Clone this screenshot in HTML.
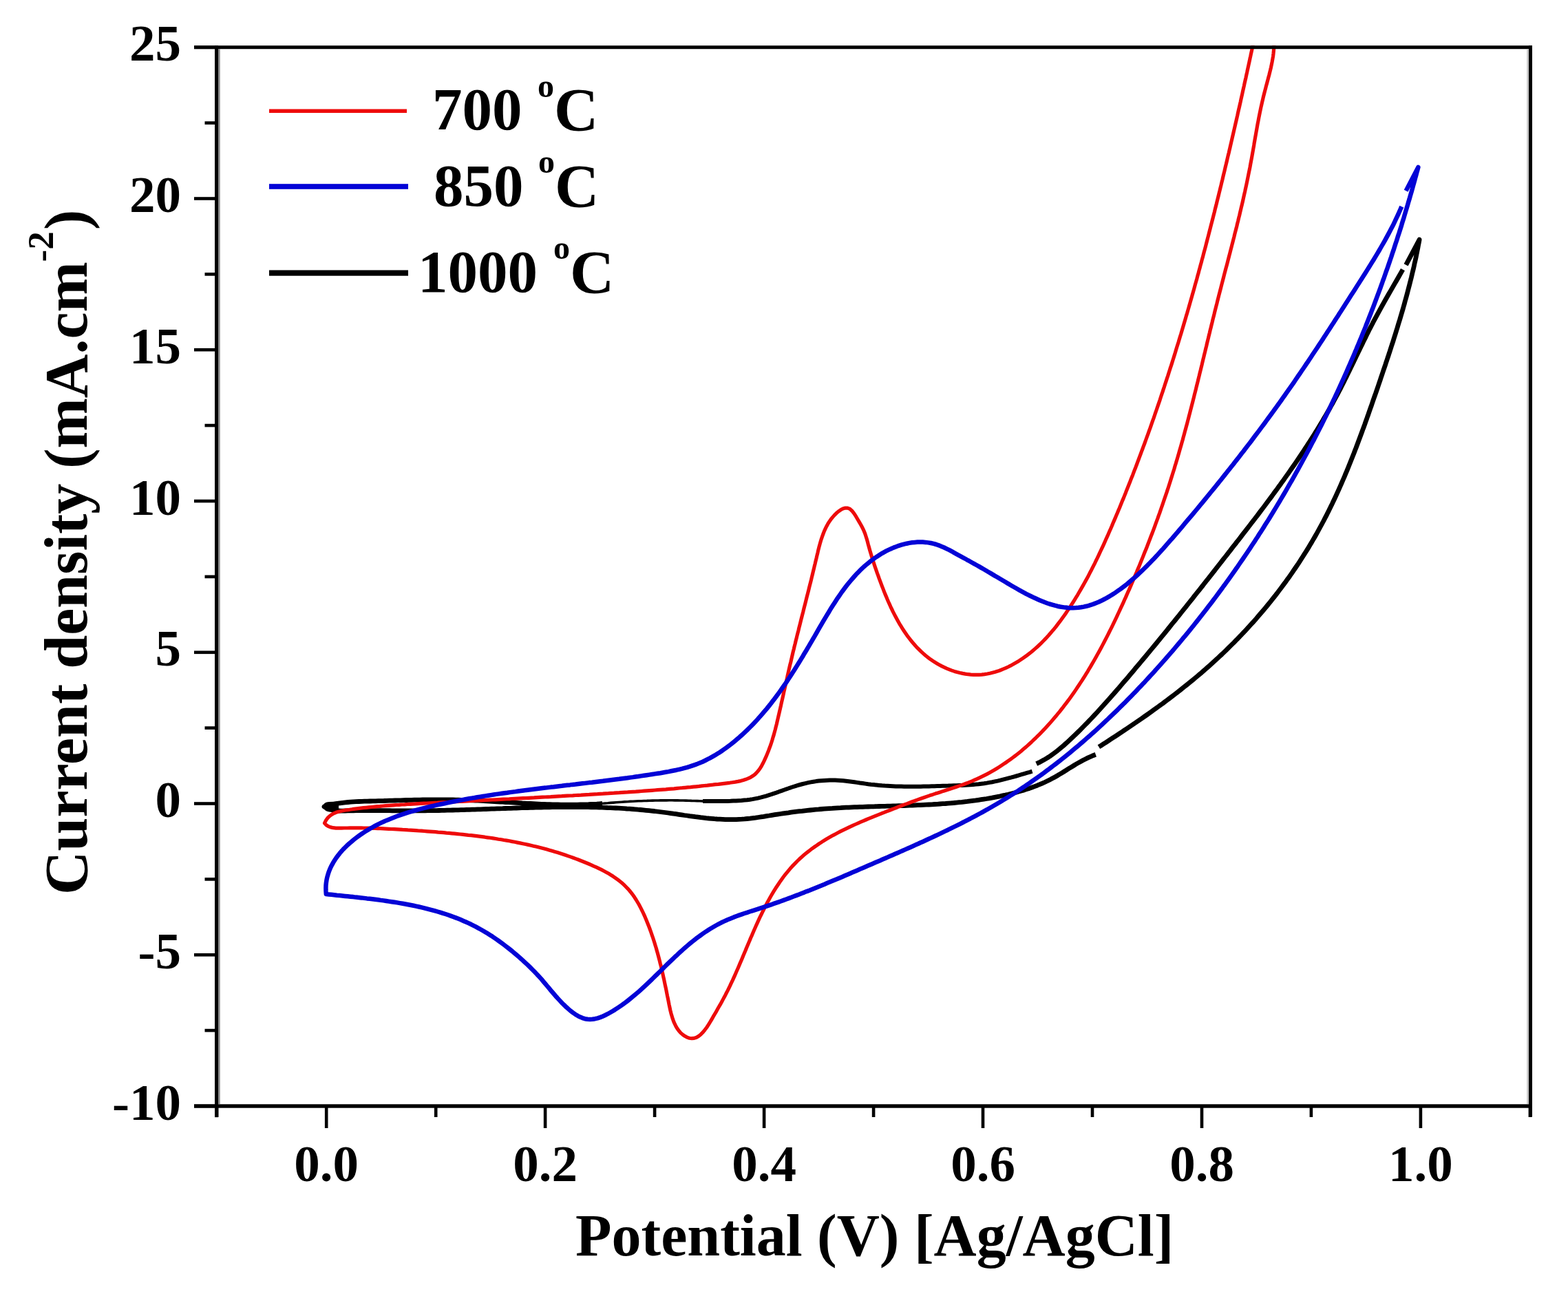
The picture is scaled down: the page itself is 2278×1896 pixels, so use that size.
<!DOCTYPE html>
<html><head><meta charset="utf-8"><title>Cyclic voltammetry</title>
<style>html,body{margin:0;padding:0;background:#fff;}svg{display:block;}</style>
</head><body>
<svg xmlns="http://www.w3.org/2000/svg" width="2278" height="1896" viewBox="0 0 2278 1896">
<rect x="0" y="0" width="2278" height="1896" fill="#ffffff"/>
<defs><clipPath id="pa"><rect x="312" y="66" width="1914" height="1544"/></clipPath></defs>
<g clip-path="url(#pa)" fill="none" stroke-linejoin="round" stroke-linecap="butt">
<path d="M1591.8 1096.3L1588.0 1097.7L1584.3 1099.3L1580.7 1100.9L1577.1 1102.7L1573.5 1104.5L1570.0 1106.4L1566.5 1108.4L1563.0 1110.4L1559.6 1112.5L1556.2 1114.6L1552.7 1116.7L1549.3 1118.9L1545.9 1121.0L1542.5 1123.1L1539.0 1125.2L1535.6 1127.2L1532.1 1129.2L1528.6 1131.1L1525.0 1133.0L1521.4 1134.8L1517.8 1136.5L1514.2 1138.1L1510.5 1139.7L1506.8 1141.2L1503.0 1142.6L1499.3 1144.0L1495.5 1145.4L1491.7 1146.6L1487.9 1147.9L1484.0 1149.0L1480.2 1150.1L1476.3 1151.2L1472.4 1152.2L1468.5 1153.2L1464.6 1154.2L1460.7 1155.1L1456.8 1155.9L1452.9 1156.8L1448.9 1157.6L1445.0 1158.3L1441.1 1159.1L1437.1 1159.8L1433.2 1160.5L1429.2 1161.1L1425.3 1161.7L1421.3 1162.3L1417.4 1162.9L1413.4 1163.4L1409.4 1163.9L1405.5 1164.4L1401.5 1164.8L1397.5 1165.3L1393.5 1165.7L1389.5 1166.1L1385.6 1166.5L1381.6 1166.8L1377.6 1167.1L1373.6 1167.5L1369.6 1167.7L1365.6 1168.0L1361.6 1168.3L1357.6 1168.5L1353.6 1168.8L1349.6 1169.0L1345.6 1169.2L1341.6 1169.4L1337.5 1169.6L1333.5 1169.7L1329.5 1169.9L1325.5 1170.1L1321.5 1170.2L1317.5 1170.4L1313.5 1170.5L1309.4 1170.6L1305.4 1170.7L1301.4 1170.9L1297.4 1171.0L1293.4 1171.1L1289.3 1171.2L1285.3 1171.3L1281.3 1171.4L1277.3 1171.5L1273.3 1171.6L1269.3 1171.8L1265.2 1171.9L1261.2 1172.0L1257.2 1172.1L1253.2 1172.3L1249.2 1172.4L1245.2 1172.6L1241.1 1172.7L1237.1 1172.9L1233.1 1173.1L1229.1 1173.2L1225.1 1173.4L1221.1 1173.7L1217.1 1173.9L1213.1 1174.1L1209.1 1174.4L1205.1 1174.6L1201.1 1174.9L1197.1 1175.2L1193.1 1175.5L1189.2 1175.9L1185.2 1176.2L1181.2 1176.6L1177.2 1177.0L1173.2 1177.4L1169.3 1177.8L1165.3 1178.3L1161.3 1178.7L1157.3 1179.2L1153.4 1179.7L1149.4 1180.2L1145.4 1180.8L1141.4 1181.3L1137.4 1181.9L1133.5 1182.5L1129.5 1183.1L1125.5 1183.7L1121.5 1184.3L1117.5 1185.0L1113.5 1185.6L1109.6 1186.3L1105.6 1186.9L1101.6 1187.5L1097.6 1188.1L1093.6 1188.6L1089.6 1189.1L1085.6 1189.5L1081.6 1189.9L1077.7 1190.2L1073.7 1190.4L1069.7 1190.6L1065.7 1190.7L1061.7 1190.7L1057.7 1190.6L1053.8 1190.6L1049.8 1190.4L1045.8 1190.2L1041.8 1190.0L1037.9 1189.7L1033.9 1189.3L1029.9 1189.0L1026.0 1188.6L1022.0 1188.1L1018.0 1187.7L1014.1 1187.2L1010.1 1186.7L1006.1 1186.1L1002.1 1185.6L998.2 1185.0L994.2 1184.5L990.2 1183.9L986.3 1183.3L982.3 1182.7L978.3 1182.2L974.3 1181.6L970.4 1181.0L966.4 1180.5L962.4 1180.0L958.4 1179.5L954.4 1179.0L950.5 1178.5L946.5 1178.1L942.5 1177.7L938.5 1177.3L934.5 1176.9L930.5 1176.5L926.5 1176.2L922.6 1175.8L918.6 1175.5L914.6 1175.2L910.6 1175.0L906.6 1174.7L902.6 1174.4L898.6 1174.2L894.6 1174.0L890.6 1173.8L886.6 1173.6L882.6 1173.5L878.6 1173.3L874.6 1173.2L870.6 1173.1L866.6 1172.9L862.6 1172.8L858.6 1172.8L854.6 1172.7L850.6 1172.6L846.6 1172.6L842.5 1172.5L838.5 1172.5L834.5 1172.5L830.5 1172.5L826.5 1172.5L822.5 1172.5L818.5 1172.5L814.5 1172.6L810.5 1172.6L806.4 1172.7L802.4 1172.7L798.4 1172.8L794.4 1172.8L790.4 1172.9L786.4 1173.0L782.3 1173.1L778.3 1173.2L774.3 1173.3L770.3 1173.4L766.3 1173.5L762.3 1173.6L758.2 1173.7L754.2 1173.9L750.2 1174.0L746.2 1174.1L742.2 1174.3L738.2 1174.4L734.1 1174.5L730.1 1174.7L726.1 1174.8L722.1 1174.9L718.1 1175.1L714.0 1175.2L710.0 1175.4L706.0 1175.5L702.0 1175.6L698.0 1175.8L693.9 1175.9L689.9 1176.1L685.9 1176.2L681.9 1176.3L677.9 1176.4L673.9 1176.6L669.8 1176.7L665.8 1176.8L661.8 1176.9L657.8 1177.0L653.8 1177.1L649.8 1177.2L645.8 1177.3L641.7 1177.4L637.7 1177.5L633.7 1177.6L629.7 1177.6L625.7 1177.7L621.7 1177.7L617.7 1177.8L613.7 1177.8L609.6 1177.8L605.6 1177.9L601.6 1177.9L597.6 1177.9L593.6 1177.9L589.6 1177.9L585.6 1177.8L581.6 1177.8L577.6 1177.8L573.6 1177.8L569.6 1177.8L565.6 1177.7L561.6 1177.7L557.6 1177.7L553.6 1177.7L549.6 1177.6L545.6 1177.6L541.6 1177.6L537.6 1177.6L533.6 1177.6L529.6 1177.6L525.6 1177.7L521.6 1177.7L517.6 1177.7L513.6 1177.8L509.6 1177.8L505.6 1177.9L501.6 1178.0L497.6 1178.1L493.6 1178.0L489.7 1177.8L485.8 1177.3L482.0 1176.6L478.2 1175.5L474.6 1174.0L471.0 1172.0L474.7 1170.8L478.5 1169.8L482.3 1168.9L486.1 1168.1L489.9 1167.4L493.8 1166.8L497.7 1166.3L501.7 1165.9L505.6 1165.5L509.5 1165.2L513.5 1164.9L517.5 1164.7L521.5 1164.5L525.5 1164.4L529.5 1164.2L533.5 1164.1L537.5 1164.0L541.6 1163.9L545.6 1163.8L549.6 1163.7L553.6 1163.6L557.7 1163.5L561.7 1163.3L565.7 1163.2L569.7 1163.1L573.8 1163.0L577.8 1162.9L581.8 1162.8L585.8 1162.6L589.9 1162.5L593.9 1162.4L597.9 1162.3L601.9 1162.2L605.9 1162.2L610.0 1162.1L614.0 1162.0L618.0 1162.0L622.0 1161.9L626.1 1161.9L630.1 1161.8L634.1 1161.8L638.1 1161.8L642.2 1161.8L646.2 1161.8L650.2 1161.9L654.2 1161.9L658.2 1162.0L662.3 1162.1L666.3 1162.2L670.3 1162.3L674.3 1162.4L678.3 1162.5L682.3 1162.7L686.4 1162.9L690.4 1163.0L694.4 1163.2L698.4 1163.4L702.4 1163.6L706.4 1163.8L710.5 1164.1L714.5 1164.3L718.5 1164.5L722.5 1164.8L726.5 1165.0L730.5 1165.2L734.5 1165.5L738.5 1165.7L742.6 1165.9L746.6 1166.2L750.6 1166.4L754.6 1166.6L758.6 1166.9L762.6 1167.1L766.6 1167.3L770.6 1167.5L774.6 1167.7L778.7 1167.9L782.7 1168.1L786.7 1168.3L790.7 1168.4L794.7 1168.6L798.7 1168.7L802.7 1168.8L806.7 1168.9L810.7 1169.0L814.8 1169.1L818.8 1169.1L822.8 1169.2L826.8 1169.2L830.8 1169.2L834.8 1169.1L838.8 1169.1L842.9 1169.0L846.9 1168.9L850.9 1168.8L854.9 1168.7L858.9 1168.5L862.9 1168.3L867.0 1168.1L871.0 1167.8L875.0 1167.5M1505.7 1109.6L1509.4 1107.9L1513.0 1106.0L1516.5 1104.1L1519.9 1102.1L1523.3 1100.0L1526.6 1097.8L1529.8 1095.5L1533.0 1093.1L1536.2 1090.7L1539.3 1088.2L1542.3 1085.7L1545.3 1083.1L1548.3 1080.4L1551.3 1077.8L1554.2 1075.1L1557.1 1072.3L1560.0 1069.6L1562.9 1066.8L1565.7 1064.0L1568.6 1061.2L1571.4 1058.4L1574.2 1055.5L1577.0 1052.7L1579.8 1049.8L1582.6 1046.9L1585.4 1044.0L1588.1 1041.1L1590.9 1038.1L1593.6 1035.2L1596.3 1032.3L1599.0 1029.3L1601.7 1026.3L1604.4 1023.3L1607.1 1020.3L1609.8 1017.3L1612.5 1014.3L1615.1 1011.3L1617.8 1008.3L1620.4 1005.2L1623.0 1002.2L1625.7 999.2L1628.3 996.1L1630.9 993.1L1633.5 990.0L1636.2 986.9L1638.8 983.9L1641.4 980.8L1644.0 977.8L1646.6 974.7L1649.1 971.6L1651.7 968.6L1654.3 965.5L1656.9 962.4L1659.5 959.3L1662.0 956.3L1664.6 953.2L1667.1 950.1L1669.7 947.0L1672.3 943.9L1674.8 940.8L1677.4 937.7L1679.9 934.7L1682.4 931.6L1685.0 928.5L1687.5 925.4L1690.0 922.3L1692.6 919.2L1695.1 916.1L1697.6 913.0L1700.1 909.8L1702.6 906.7L1705.2 903.6L1707.7 900.5L1710.2 897.4L1712.7 894.3L1715.2 891.2L1717.7 888.0L1720.2 884.9L1722.7 881.8L1725.2 878.7L1727.7 875.5L1730.2 872.4L1732.7 869.3L1735.1 866.2L1737.6 863.0L1740.1 859.9L1742.6 856.8L1745.1 853.6L1747.6 850.5L1750.0 847.3L1752.5 844.2L1755.0 841.1L1757.5 837.9L1759.9 834.8L1762.4 831.6L1764.9 828.5L1767.3 825.3L1769.8 822.2L1772.3 819.0L1774.7 815.9L1777.2 812.7L1779.7 809.5L1782.2 806.4L1784.6 803.2L1787.1 800.1L1789.5 796.9L1792.0 793.7L1794.5 790.6L1796.9 787.4L1799.4 784.3L1801.9 781.1L1804.3 777.9L1806.8 774.7L1809.2 771.6L1811.7 768.4L1814.1 765.2L1816.6 762.0L1819.0 758.8L1821.5 755.7L1823.9 752.5L1826.4 749.3L1828.8 746.1L1831.2 742.9L1833.6 739.7L1836.1 736.5L1838.5 733.3L1840.9 730.0L1843.3 726.8L1845.7 723.6L1848.1 720.4L1850.4 717.1L1852.8 713.9L1855.2 710.7L1857.5 707.4L1859.9 704.2L1862.2 700.9L1864.6 697.7L1866.9 694.4L1869.2 691.1L1871.5 687.9L1873.8 684.6L1876.1 681.3L1878.4 678.0L1880.7 674.7L1883.0 671.4L1885.2 668.1L1887.5 664.8L1889.7 661.5L1891.9 658.1L1894.1 654.8L1896.3 651.4L1898.5 648.1L1900.7 644.7L1902.9 641.4L1905.0 638.0L1907.2 634.6L1909.3 631.3L1911.4 627.9L1913.5 624.5L1915.6 621.1L1917.7 617.6L1919.7 614.2L1921.8 610.8L1923.8 607.3L1925.8 603.9L1927.8 600.4L1929.8 597.0L1931.8 593.5L1933.7 590.0L1935.7 586.5L1937.6 583.0L1939.5 579.5L1941.4 576.0L1943.3 572.4L1945.1 568.9L1947.0 565.4L1948.8 561.8L1950.6 558.2L1952.4 554.7L1954.2 551.1L1956.0 547.5L1957.7 543.9L1959.5 540.3L1961.2 536.7L1963.0 533.1L1964.7 529.5L1966.5 525.9L1968.2 522.3L1969.9 518.7L1971.7 515.1L1973.4 511.5L1975.2 507.9L1976.9 504.3L1978.7 500.7L1980.4 497.1L1982.2 493.5L1984.0 489.9L1985.7 486.3L1987.5 482.7L1989.3 479.1L1991.1 475.6L1993.0 472.0L1994.8 468.4L1996.7 464.9L1998.6 461.3L2000.5 457.8L2002.4 454.3L2004.3 450.8L2006.2 447.3L2008.2 443.8L2010.1 440.3L2012.1 436.8L2014.1 433.3L2016.1 429.8L2018.1 426.3L2020.1 422.9L2022.1 419.4L2024.1 415.9L2026.1 412.4L2028.1 409.0L2030.1 405.5L2032.1 402.0L2034.0 398.6L2036.0 395.1L2038.0 391.6M2042.6 384.8L2062.1 348.1L2061.4 352.1L2060.6 356.0L2059.9 360.0L2059.1 363.9L2058.3 367.9L2057.5 371.8L2056.7 375.8L2055.8 379.7L2054.9 383.6L2054.1 387.5L2053.2 391.4L2052.2 395.3L2051.3 399.2L2050.4 403.1L2049.4 407.0L2048.4 410.9L2047.4 414.8L2046.4 418.6L2045.4 422.5L2044.4 426.4L2043.4 430.2L2042.3 434.1L2041.2 437.9L2040.2 441.8L2039.1 445.6L2038.0 449.5L2036.9 453.3L2035.7 457.2L2034.6 461.0L2033.5 464.8L2032.3 468.6L2031.1 472.5L2030.0 476.3L2028.8 480.1L2027.6 483.9L2026.4 487.7L2025.2 491.5L2024.0 495.4L2022.8 499.2L2021.5 503.0L2020.3 506.8L2019.1 510.6L2017.8 514.4L2016.6 518.2L2015.3 522.0L2014.0 525.8L2012.8 529.6L2011.5 533.4L2010.2 537.2L2008.9 541.0L2007.6 544.8L2006.3 548.6L2005.1 552.4L2003.8 556.2L2002.5 560.0L2001.2 563.8L1999.9 567.6L1998.6 571.4L1997.2 575.2L1995.9 578.9L1994.6 582.7L1993.3 586.5L1992.0 590.3L1990.6 594.1L1989.3 597.9L1988.0 601.7L1986.6 605.5L1985.3 609.3L1983.9 613.1L1982.6 616.9L1981.2 620.7L1979.8 624.4L1978.4 628.2L1977.0 632.0L1975.6 635.8L1974.2 639.5L1972.8 643.3L1971.4 647.0L1970.0 650.8L1968.5 654.6L1967.1 658.3L1965.6 662.0L1964.1 665.8L1962.6 669.5L1961.1 673.2L1959.6 677.0L1958.1 680.7L1956.6 684.4L1955.0 688.1L1953.5 691.8L1951.9 695.5L1950.3 699.1L1948.7 702.8L1947.1 706.5L1945.5 710.1L1943.8 713.8L1942.2 717.4L1940.5 721.1L1938.8 724.7L1937.1 728.3L1935.4 731.9L1933.6 735.5L1931.9 739.1L1930.1 742.7L1928.3 746.3L1926.5 749.9L1924.6 753.4L1922.8 757.0L1920.9 760.5L1919.0 764.0L1917.1 767.5L1915.2 771.0L1913.3 774.5L1911.3 778.0L1909.3 781.5L1907.3 784.9L1905.3 788.4L1903.2 791.8L1901.2 795.2L1899.1 798.6L1897.0 802.0L1894.8 805.4L1892.7 808.8L1890.5 812.2L1888.4 815.5L1886.2 818.9L1883.9 822.2L1881.7 825.5L1879.4 828.8L1877.2 832.1L1874.9 835.4L1872.6 838.7L1870.2 841.9L1867.9 845.2L1865.5 848.4L1863.2 851.6L1860.8 854.8L1858.3 858.0L1855.9 861.2L1853.5 864.4L1851.0 867.5L1848.5 870.7L1846.0 873.8L1843.5 876.9L1841.0 880.0L1838.4 883.1L1835.8 886.2L1833.2 889.2L1830.6 892.3L1828.0 895.3L1825.4 898.4L1822.7 901.4L1820.1 904.4L1817.4 907.3L1814.7 910.3L1812.0 913.3L1809.3 916.2L1806.5 919.1L1803.8 922.0L1801.0 924.9L1798.2 927.8L1795.4 930.7L1792.6 933.6L1789.7 936.4L1786.9 939.2L1784.0 942.0L1781.2 944.8L1778.3 947.6L1775.4 950.4L1772.4 953.1L1769.5 955.9L1766.6 958.6L1763.6 961.3L1760.6 964.0L1757.6 966.7L1754.6 969.4L1751.6 972.0L1748.6 974.6L1745.6 977.3L1742.5 979.9L1739.4 982.5L1736.4 985.0L1733.3 987.6L1730.2 990.2L1727.1 992.7L1723.9 995.2L1720.8 997.7L1717.7 1000.2L1714.5 1002.7L1711.4 1005.2L1708.2 1007.6L1705.0 1010.1L1701.8 1012.5L1698.6 1015.0L1695.4 1017.4L1692.2 1019.8L1689.0 1022.2L1685.7 1024.5L1682.5 1026.9L1679.2 1029.3L1676.0 1031.6L1672.7 1034.0L1669.5 1036.3L1666.2 1038.6L1662.9 1040.9L1659.6 1043.2L1656.3 1045.5L1653.0 1047.8L1649.7 1050.0L1646.4 1052.3L1643.1 1054.5L1639.8 1056.8L1636.5 1059.0L1633.2 1061.2L1629.8 1063.5L1626.5 1065.7L1623.2 1067.9L1619.8 1070.1L1616.5 1072.2L1613.1 1074.4L1609.8 1076.6L1606.4 1078.8L1603.1 1080.9L1599.8 1083.1L1596.4 1085.2" stroke="#000000" stroke-width="6.8"/>
<path d="M875.0 1167.5L879.0 1167.1L883.1 1166.8L887.1 1166.4L891.2 1166.1L895.2 1165.8L899.3 1165.5L903.3 1165.2L907.4 1164.9L911.4 1164.7L915.5 1164.4L919.5 1164.2L923.6 1164.0L927.6 1163.8L931.7 1163.7L935.7 1163.5L939.8 1163.4L943.8 1163.2L947.9 1163.1L951.9 1163.0L956.0 1163.0L960.0 1162.9L964.1 1162.9L968.2 1162.9L972.2 1162.8L976.3 1162.8L980.3 1162.9L984.4 1162.9L988.5 1163.0L992.5 1163.0L996.6 1163.1L1000.7 1163.2L1004.7 1163.4L1008.8 1163.5L1012.9 1163.6L1016.9 1163.8L1021.0 1164.0" stroke="#000000" stroke-width="3.6"/>
<path d="M1021.0 1164.0L1025.0 1164.0L1029.0 1164.0L1033.1 1164.0L1037.1 1164.0L1041.1 1164.0L1045.1 1164.0L1049.2 1164.0L1053.2 1163.9L1057.2 1163.9L1061.3 1163.8L1065.3 1163.6L1069.3 1163.5L1073.3 1163.2L1077.3 1163.0L1081.3 1162.6L1085.3 1162.2L1089.3 1161.7L1093.2 1161.1L1097.1 1160.4L1101.1 1159.6L1105.0 1158.7L1108.8 1157.7L1112.7 1156.6L1116.5 1155.4L1120.4 1154.2L1124.2 1152.9L1128.0 1151.6L1131.8 1150.2L1135.7 1148.9L1139.5 1147.5L1143.3 1146.2L1147.1 1144.8L1150.9 1143.5L1154.7 1142.3L1158.5 1141.1L1162.4 1140.0L1166.2 1139.0L1170.1 1138.1L1174.0 1137.2L1177.8 1136.4L1181.7 1135.7L1185.6 1135.1L1189.5 1134.6L1193.5 1134.2L1197.4 1133.9L1201.3 1133.7L1205.3 1133.5L1209.3 1133.5L1213.2 1133.5L1217.2 1133.7L1221.2 1134.0L1225.2 1134.3L1229.2 1134.7L1233.2 1135.2L1237.2 1135.7L1241.2 1136.3L1245.2 1136.9L1249.2 1137.5L1253.3 1138.0L1257.3 1138.6L1261.3 1139.2L1265.3 1139.7L1269.3 1140.1L1273.4 1140.5L1277.4 1140.9L1281.4 1141.3L1285.4 1141.6L1289.4 1141.8L1293.4 1142.0L1297.4 1142.2L1301.4 1142.4L1305.5 1142.5L1309.5 1142.6L1313.5 1142.7L1317.5 1142.7L1321.5 1142.8L1325.5 1142.8L1329.5 1142.7L1333.5 1142.7L1337.5 1142.7L1341.5 1142.6L1345.5 1142.5L1349.6 1142.4L1353.6 1142.3L1357.6 1142.2L1361.6 1142.1L1365.6 1142.0L1369.6 1141.8L1373.6 1141.7L1377.6 1141.6L1381.6 1141.4L1385.7 1141.3L1389.7 1141.2L1393.7 1141.0L1397.7 1140.9L1401.7 1140.7L1405.7 1140.5L1409.7 1140.2L1413.7 1139.9L1417.7 1139.6L1421.7 1139.2L1425.6 1138.7L1429.6 1138.2L1433.6 1137.6L1437.5 1136.9L1441.4 1136.2L1445.3 1135.4L1449.3 1134.6L1453.2 1133.7L1457.1 1132.7L1461.0 1131.7L1464.8 1130.7L1468.7 1129.7L1472.6 1128.6L1476.5 1127.5L1480.3 1126.4L1484.2 1125.2L1488.0 1124.1L1491.9 1122.9L1495.8 1121.8L1499.6 1120.6" stroke="#000000" stroke-width="6"/>
<path d="M469.5 1171 Q470 1165.5 478 1165 L492 1164.6 L492 1179.6 L478 1179.5 Q470 1178 469.5 1171Z" fill="#000"/>
<path d="M1851.0 62.0L1850.9 66.1L1850.7 70.1L1850.4 74.1L1850.0 78.1L1849.5 82.1L1848.8 86.1L1848.1 90.0L1847.3 93.9L1846.5 97.8L1845.6 101.7L1844.6 105.6L1843.7 109.4L1842.6 113.3L1841.6 117.2L1840.6 121.0L1839.5 124.9L1838.5 128.8L1837.5 132.6L1836.5 136.5L1835.5 140.4L1834.6 144.3L1833.7 148.2L1832.8 152.1L1831.9 156.0L1831.1 159.9L1830.3 163.8L1829.5 167.8L1828.7 171.7L1828.0 175.6L1827.2 179.6L1826.5 183.5L1825.8 187.5L1825.1 191.4L1824.4 195.4L1823.7 199.3L1823.0 203.3L1822.3 207.2L1821.7 211.2L1821.0 215.1L1820.3 219.1L1819.6 223.0L1818.9 227.0L1818.2 230.9L1817.4 234.9L1816.7 238.8L1816.0 242.8L1815.2 246.7L1814.4 250.6L1813.6 254.5L1812.8 258.5L1812.0 262.4L1811.2 266.3L1810.4 270.2L1809.5 274.1L1808.7 278.0L1807.8 281.9L1806.9 285.8L1806.1 289.7L1805.2 293.6L1804.3 297.5L1803.3 301.4L1802.4 305.3L1801.5 309.2L1800.6 313.1L1799.6 316.9L1798.7 320.8L1797.7 324.7L1796.8 328.6L1795.8 332.5L1794.8 336.3L1793.8 340.2L1792.9 344.1L1791.9 347.9L1790.9 351.8L1789.9 355.7L1788.9 359.6L1787.9 363.4L1786.9 367.3L1785.9 371.2L1784.9 375.0L1783.9 378.9L1782.9 382.8L1781.9 386.6L1780.8 390.5L1779.8 394.4L1778.8 398.2L1777.8 402.1L1776.8 406.0L1775.8 409.9L1774.8 413.7L1773.8 417.6L1772.8 421.5L1771.8 425.3L1770.8 429.2L1769.8 433.1L1768.8 437.0L1767.9 440.9L1766.9 444.7L1765.9 448.6L1764.9 452.5L1764.0 456.4L1763.0 460.3L1762.0 464.2L1761.1 468.1L1760.1 472.0L1759.2 475.8L1758.2 479.7L1757.3 483.6L1756.3 487.5L1755.4 491.4L1754.4 495.3L1753.5 499.2L1752.6 503.1L1751.6 507.0L1750.7 510.9L1749.7 514.8L1748.8 518.7L1747.8 522.6L1746.9 526.5L1746.0 530.4L1745.0 534.3L1744.1 538.2L1743.1 542.0L1742.2 545.9L1741.2 549.8L1740.3 553.7L1739.3 557.6L1738.3 561.5L1737.4 565.4L1736.4 569.3L1735.4 573.2L1734.5 577.0L1733.5 580.9L1732.5 584.8L1731.5 588.7L1730.5 592.6L1729.5 596.4L1728.5 600.3L1727.5 604.2L1726.5 608.1L1725.5 611.9L1724.5 615.8L1723.4 619.7L1722.4 623.5L1721.3 627.4L1720.3 631.3L1719.2 635.1L1718.2 639.0L1717.1 642.8L1716.0 646.7L1714.9 650.5L1713.8 654.3L1712.7 658.2L1711.6 662.0L1710.5 665.9L1709.3 669.7L1708.2 673.5L1707.0 677.3L1705.9 681.2L1704.7 685.0L1703.5 688.8L1702.3 692.6L1701.1 696.4L1699.9 700.2L1698.7 704.0L1697.5 707.8L1696.2 711.6L1695.0 715.4L1693.7 719.2L1692.4 722.9L1691.1 726.7L1689.8 730.5L1688.5 734.3L1687.2 738.0L1685.9 741.8L1684.6 745.6L1683.2 749.3L1681.9 753.1L1680.5 756.8L1679.1 760.6L1677.8 764.3L1676.4 768.1L1675.0 771.8L1673.6 775.5L1672.1 779.3L1670.7 783.0L1669.3 786.7L1667.8 790.5L1666.4 794.2L1664.9 797.9L1663.4 801.6L1661.9 805.3L1660.4 809.1L1658.9 812.8L1657.4 816.5L1655.9 820.2L1654.4 823.9L1652.8 827.6L1651.3 831.3L1649.7 835.0L1648.1 838.6L1646.6 842.3L1645.0 846.0L1643.4 849.7L1641.8 853.4L1640.2 857.1L1638.5 860.7L1636.9 864.4L1635.3 868.1L1633.6 871.7L1632.0 875.4L1630.3 879.1L1628.6 882.7L1626.9 886.4L1625.2 890.0L1623.5 893.7L1621.8 897.3L1620.1 900.9L1618.3 904.6L1616.6 908.2L1614.8 911.8L1613.0 915.4L1611.2 919.0L1609.4 922.6L1607.6 926.2L1605.7 929.8L1603.9 933.3L1602.0 936.9L1600.1 940.4L1598.2 944.0L1596.3 947.5L1594.3 951.0L1592.4 954.5L1590.4 958.0L1588.4 961.5L1586.4 964.9L1584.4 968.4L1582.3 971.8L1580.3 975.3L1578.2 978.7L1576.1 982.1L1573.9 985.5L1571.8 988.8L1569.6 992.2L1567.4 995.5L1565.2 998.8L1563.0 1002.1L1560.7 1005.4L1558.4 1008.7L1556.1 1011.9L1553.8 1015.2L1551.4 1018.4L1549.0 1021.6L1546.6 1024.7L1544.2 1027.9L1541.7 1031.0L1539.3 1034.1L1536.7 1037.2L1534.2 1040.3L1531.6 1043.3L1529.0 1046.4L1526.4 1049.4L1523.8 1052.3L1521.1 1055.3L1518.4 1058.2L1515.6 1061.1L1512.9 1064.0L1510.1 1066.9L1507.2 1069.7L1504.4 1072.5L1501.5 1075.2L1498.6 1078.0L1495.6 1080.7L1492.7 1083.4L1489.7 1086.0L1486.6 1088.6L1483.6 1091.2L1480.5 1093.7L1477.3 1096.2L1474.2 1098.6L1471.0 1101.0L1467.8 1103.4L1464.5 1105.7L1461.2 1108.0L1457.9 1110.2L1454.6 1112.4L1451.2 1114.6L1447.8 1116.7L1444.4 1118.7L1440.9 1120.7L1437.4 1122.7L1433.9 1124.6L1430.4 1126.4L1426.8 1128.2L1423.2 1129.9L1419.5 1131.6L1415.9 1133.2L1412.2 1134.8L1408.4 1136.3L1404.7 1137.8L1400.9 1139.2L1397.1 1140.6L1393.3 1141.9L1389.4 1143.2L1385.6 1144.5L1381.7 1145.7L1377.9 1147.0L1374.1 1148.2L1370.2 1149.4L1366.4 1150.7L1362.6 1151.9L1358.8 1153.1L1355.0 1154.4L1351.2 1155.6L1347.5 1156.9L1343.7 1158.2L1340.0 1159.5L1336.3 1160.8L1332.6 1162.1L1328.9 1163.5L1325.2 1164.8L1321.5 1166.2L1317.8 1167.6L1314.1 1168.9L1310.4 1170.3L1306.7 1171.7L1303.0 1173.2L1299.3 1174.6L1295.6 1176.0L1291.9 1177.5L1288.2 1178.9L1284.5 1180.4L1280.7 1181.8L1276.9 1183.3L1273.2 1184.8L1269.4 1186.3L1265.7 1187.9L1261.9 1189.4L1258.1 1191.0L1254.4 1192.6L1250.6 1194.2L1246.9 1195.8L1243.1 1197.5L1239.4 1199.1L1235.7 1200.8L1232.0 1202.6L1228.4 1204.3L1224.7 1206.1L1221.1 1207.9L1217.5 1209.8L1213.9 1211.7L1210.3 1213.6L1206.8 1215.6L1203.3 1217.6L1199.9 1219.6L1196.4 1221.7L1193.1 1223.9L1189.7 1226.0L1186.4 1228.3L1183.2 1230.5L1179.9 1232.8L1176.8 1235.2L1173.7 1237.6L1170.6 1240.1L1167.6 1242.6L1164.6 1245.2L1161.7 1247.8L1158.9 1250.5L1156.1 1253.3L1153.4 1256.1L1150.7 1258.9L1148.1 1261.8L1145.6 1264.8L1143.1 1267.8L1140.6 1270.9L1138.2 1274.0L1135.9 1277.2L1133.6 1280.4L1131.4 1283.7L1129.2 1287.0L1127.0 1290.3L1124.9 1293.7L1122.8 1297.1L1120.8 1300.5L1118.8 1304.0L1116.9 1307.5L1114.9 1311.0L1113.0 1314.6L1111.2 1318.2L1109.4 1321.8L1107.6 1325.4L1105.8 1329.1L1104.0 1332.7L1102.3 1336.4L1100.6 1340.1L1098.9 1343.8L1097.3 1347.5L1095.6 1351.3L1094.0 1355.0L1092.4 1358.8L1090.7 1362.5L1089.2 1366.3L1087.6 1370.0L1086.0 1373.8L1084.4 1377.5L1082.9 1381.3L1081.3 1385.0L1079.7 1388.7L1078.2 1392.4L1076.6 1396.2L1075.0 1399.9L1073.5 1403.5L1071.9 1407.2L1070.3 1410.8L1068.7 1414.5L1067.1 1418.1L1065.5 1421.6L1063.9 1425.2L1062.2 1428.7L1060.6 1432.2L1058.9 1435.7L1057.2 1439.1L1055.4 1442.5L1053.7 1445.9L1051.9 1449.2L1050.1 1452.6L1048.3 1456.0L1046.4 1459.4L1044.4 1462.8L1042.4 1466.3L1040.4 1469.9L1038.3 1473.5L1036.1 1477.2L1033.9 1481.1L1031.6 1485.0L1029.2 1488.9L1026.7 1492.7L1024.0 1496.3L1021.3 1499.7L1018.3 1502.7L1015.2 1505.2L1011.9 1507.2L1008.5 1508.4L1005.0 1508.7L1001.5 1508.2L998.1 1507.1L994.9 1505.3L991.8 1503.1L988.9 1500.6L986.4 1497.7L984.1 1494.6L982.1 1491.3L980.3 1487.7L978.7 1484.1L977.3 1480.2L976.1 1476.3L974.9 1472.2L973.9 1468.1L973.0 1463.9L972.1 1459.7L971.3 1455.5L970.5 1451.4L969.6 1447.3L968.8 1443.2L968.0 1439.1L967.2 1435.1L966.3 1431.1L965.5 1427.2L964.7 1423.2L963.8 1419.3L963.0 1415.5L962.1 1411.6L961.2 1407.7L960.3 1403.9L959.3 1400.1L958.4 1396.3L957.4 1392.5L956.4 1388.8L955.4 1385.0L954.3 1381.2L953.3 1377.5L952.1 1373.7L951.0 1370.0L949.8 1366.3L948.6 1362.5L947.3 1358.8L946.0 1355.0L944.7 1351.3L943.3 1347.5L941.8 1343.7L940.3 1340.0L938.8 1336.2L937.2 1332.4L935.5 1328.7L933.8 1325.0L932.0 1321.3L930.1 1317.6L928.2 1314.0L926.1 1310.5L924.0 1307.0L921.8 1303.6L919.5 1300.3L917.1 1297.1L914.6 1294.0L912.0 1291.1L909.2 1288.2L906.4 1285.4L903.5 1282.8L900.4 1280.3L897.3 1277.9L894.1 1275.6L890.8 1273.3L887.5 1271.2L884.0 1269.1L880.6 1267.2L877.0 1265.3L873.5 1263.4L869.8 1261.6L866.2 1259.9L862.5 1258.3L858.8 1256.6L855.1 1255.0L851.4 1253.5L847.7 1252.0L843.9 1250.5L840.2 1249.0L836.4 1247.6L832.7 1246.2L828.9 1244.9L825.1 1243.6L821.3 1242.3L817.5 1241.0L813.7 1239.8L809.9 1238.6L806.1 1237.5L802.2 1236.3L798.4 1235.2L794.5 1234.1L790.7 1233.1L786.8 1232.1L782.9 1231.1L779.0 1230.1L775.2 1229.2L771.3 1228.3L767.4 1227.4L763.5 1226.5L759.6 1225.7L755.6 1224.9L751.7 1224.1L747.8 1223.3L743.9 1222.6L739.9 1221.8L736.0 1221.1L732.0 1220.5L728.1 1219.8L724.1 1219.2L720.2 1218.5L716.2 1217.9L712.2 1217.3L708.3 1216.8L704.3 1216.2L700.3 1215.7L696.3 1215.2L692.4 1214.7L688.4 1214.2L684.4 1213.7L680.4 1213.3L676.4 1212.8L672.4 1212.4L668.4 1212.0L664.5 1211.6L660.5 1211.2L656.5 1210.8L652.5 1210.4L648.5 1210.1L644.5 1209.7L640.5 1209.4L636.5 1209.1L632.5 1208.7L628.5 1208.4L624.5 1208.1L620.5 1207.8L616.6 1207.5L612.6 1207.2L608.6 1207.0L604.6 1206.7L600.6 1206.4L596.7 1206.1L592.7 1205.9L588.7 1205.6L584.7 1205.4L580.8 1205.1L576.8 1204.9L572.8 1204.7L568.8 1204.5L564.8 1204.3L560.9 1204.1L556.9 1203.9L552.9 1203.7L548.9 1203.6L544.9 1203.4L540.9 1203.3L536.8 1203.2L532.8 1203.1L528.8 1203.0L524.7 1202.9L520.7 1202.9L516.6 1202.9L512.5 1202.9L508.4 1202.9L504.3 1203.0L500.2 1203.0L496.1 1203.1L492.0 1203.2L488.0 1203.1L484.1 1202.7L480.5 1201.9L477.1 1200.6L474.1 1198.7L471.5 1196.0L473.4 1192.1L475.8 1188.7L478.5 1186.0L481.5 1183.7L484.8 1181.8L488.3 1180.3L492.1 1179.2L495.9 1178.2L499.9 1177.5L503.9 1176.8L508.0 1176.3L512.0 1175.7L516.0 1175.2L520.1 1174.7L524.1 1174.2L528.1 1173.7L532.1 1173.3L536.1 1172.9L540.1 1172.5L544.1 1172.1L548.1 1171.7L552.1 1171.4L556.1 1171.0L560.1 1170.7L564.0 1170.4L568.0 1170.1L572.0 1169.8L576.0 1169.5L580.0 1169.3L583.9 1169.0L587.9 1168.8L591.9 1168.5L595.9 1168.3L599.8 1168.1L603.8 1167.9L607.8 1167.6L611.8 1167.4L615.7 1167.2L619.7 1167.0L623.7 1166.8L627.7 1166.6L631.7 1166.4L635.7 1166.2L639.7 1165.9L643.6 1165.7L647.6 1165.5L651.6 1165.3L655.6 1165.1L659.6 1164.9L663.6 1164.7L667.6 1164.5L671.6 1164.3L675.6 1164.1L679.6 1163.9L683.6 1163.7L687.7 1163.4L691.7 1163.2L695.7 1163.0L699.7 1162.8L703.7 1162.6L707.7 1162.4L711.7 1162.2L715.7 1162.0L719.7 1161.8L723.7 1161.6L727.8 1161.4L731.8 1161.2L735.8 1161.0L739.8 1160.8L743.8 1160.5L747.8 1160.3L751.8 1160.1L755.8 1159.9L759.9 1159.7L763.9 1159.5L767.9 1159.3L771.9 1159.1L775.9 1158.9L779.9 1158.6L783.9 1158.4L787.9 1158.2L792.0 1158.0L796.0 1157.8L800.0 1157.6L804.0 1157.3L808.0 1157.1L812.0 1156.9L816.0 1156.7L820.0 1156.4L824.0 1156.2L828.0 1156.0L832.0 1155.8L836.0 1155.5L840.0 1155.3L844.0 1155.1L848.0 1154.8L852.0 1154.6L856.0 1154.4L860.0 1154.1L864.0 1153.9L868.0 1153.7L871.9 1153.4L875.9 1153.2L879.9 1152.9L883.9 1152.7L887.9 1152.4L891.8 1152.2L895.8 1151.9L899.8 1151.7L903.8 1151.4L907.7 1151.1L911.7 1150.9L915.7 1150.6L919.6 1150.3L923.6 1150.1L927.6 1149.8L931.5 1149.5L935.5 1149.2L939.5 1148.9L943.5 1148.6L947.4 1148.3L951.4 1148.0L955.4 1147.7L959.4 1147.4L963.3 1147.1L967.3 1146.8L971.3 1146.4L975.3 1146.1L979.3 1145.8L983.3 1145.4L987.3 1145.0L991.3 1144.7L995.3 1144.3L999.3 1143.9L1003.3 1143.6L1007.3 1143.2L1011.3 1142.8L1015.4 1142.4L1019.4 1141.9L1023.4 1141.5L1027.5 1141.1L1031.5 1140.6L1035.6 1140.2L1039.6 1139.7L1043.7 1139.3L1047.8 1138.8L1051.8 1138.3L1055.9 1137.8L1060.0 1137.3L1064.1 1136.7L1068.1 1136.1L1072.1 1135.4L1076.0 1134.6L1079.8 1133.5L1083.5 1132.3L1087.1 1130.9L1090.5 1129.3L1093.7 1127.3L1096.7 1125.1L1099.4 1122.4L1101.9 1119.5L1104.3 1116.2L1106.4 1112.8L1108.4 1109.1L1110.2 1105.4L1111.9 1101.6L1113.6 1097.9L1115.1 1094.1L1116.6 1090.4L1118.0 1086.6L1119.4 1082.8L1120.7 1079.0L1121.9 1075.2L1123.0 1071.4L1124.2 1067.6L1125.2 1063.8L1126.3 1059.9L1127.2 1056.1L1128.2 1052.3L1129.1 1048.4L1130.0 1044.5L1130.9 1040.7L1131.8 1036.8L1132.7 1032.9L1133.6 1029.0L1134.5 1025.1L1135.3 1021.2L1136.2 1017.3L1137.1 1013.4L1138.0 1009.4L1138.8 1005.5L1139.7 1001.6L1140.6 997.6L1141.5 993.7L1142.4 989.8L1143.3 985.8L1144.1 981.9L1145.0 978.0L1145.9 974.0L1146.8 970.1L1147.7 966.2L1148.7 962.3L1149.6 958.4L1150.5 954.5L1151.4 950.6L1152.3 946.7L1153.3 942.8L1154.2 938.9L1155.2 935.1L1156.1 931.2L1157.1 927.3L1158.0 923.5L1159.0 919.6L1160.0 915.8L1160.9 911.9L1161.9 908.1L1162.9 904.2L1163.8 900.4L1164.8 896.5L1165.8 892.7L1166.8 888.9L1167.7 885.0L1168.7 881.1L1169.7 877.3L1170.7 873.4L1171.6 869.6L1172.6 865.7L1173.6 861.8L1174.6 858.0L1175.5 854.1L1176.5 850.2L1177.5 846.3L1178.5 842.4L1179.4 838.5L1180.4 834.5L1181.3 830.6L1182.3 826.7L1183.2 822.7L1184.2 818.8L1185.1 814.8L1186.1 810.8L1187.0 806.8L1188.0 802.8L1188.9 798.8L1189.9 794.9L1191.0 790.9L1192.1 787.0L1193.3 783.1L1194.6 779.3L1196.0 775.5L1197.4 771.8L1199.1 768.2L1200.8 764.7L1202.7 761.2L1204.8 757.9L1207.0 754.7L1209.5 751.6L1212.1 748.6L1214.9 745.8L1218.0 743.1L1221.3 740.8L1224.6 739.0L1228.0 738.0L1231.4 738.1L1234.7 739.4L1237.8 742.2L1240.7 745.9L1243.5 750.2L1246.0 754.5L1248.3 758.4L1250.4 762.0L1252.2 765.3L1253.9 768.6L1255.4 772.0L1256.8 775.5L1258.0 779.2L1259.2 783.0L1260.3 786.9L1261.3 790.9L1262.4 794.8L1263.5 798.7L1264.6 802.6L1265.8 806.5L1266.9 810.3L1268.1 814.1L1269.4 817.9L1270.6 821.6L1271.9 825.4L1273.2 829.2L1274.5 832.9L1275.9 836.6L1277.2 840.4L1278.6 844.1L1280.0 847.9L1281.4 851.6L1282.9 855.4L1284.3 859.1L1285.8 862.9L1287.4 866.6L1288.9 870.3L1290.5 874.0L1292.2 877.7L1293.8 881.3L1295.6 885.0L1297.3 888.6L1299.1 892.2L1301.0 895.8L1302.9 899.3L1304.8 902.8L1306.8 906.3L1308.9 909.7L1311.0 913.1L1313.2 916.5L1315.4 919.8L1317.7 923.1L1320.1 926.3L1322.5 929.4L1325.0 932.5L1327.6 935.5L1330.2 938.5L1332.9 941.4L1335.7 944.2L1338.5 946.9L1341.5 949.6L1344.5 952.2L1347.6 954.7L1350.7 957.1L1354.0 959.4L1357.3 961.6L1360.8 963.7L1364.3 965.7L1367.8 967.6L1371.5 969.4L1375.2 971.1L1378.9 972.6L1382.8 974.1L1386.6 975.4L1390.5 976.5L1394.4 977.5L1398.4 978.4L1402.4 979.1L1406.4 979.7L1410.4 980.1L1414.4 980.3L1418.3 980.4L1422.3 980.3L1426.3 980.1L1430.3 979.6L1434.2 979.0L1438.1 978.3L1442.0 977.3L1445.8 976.3L1449.7 975.1L1453.4 973.7L1457.2 972.2L1460.9 970.7L1464.5 969.0L1468.1 967.2L1471.6 965.3L1475.1 963.3L1478.6 961.3L1481.9 959.1L1485.3 956.9L1488.5 954.7L1491.7 952.3L1494.9 949.9L1498.0 947.5L1501.0 945.0L1504.0 942.4L1507.0 939.7L1509.9 937.0L1512.7 934.3L1515.5 931.5L1518.3 928.6L1521.0 925.7L1523.7 922.8L1526.3 919.8L1528.9 916.7L1531.5 913.7L1534.0 910.6L1536.4 907.4L1538.9 904.2L1541.3 901.0L1543.6 897.8L1546.0 894.5L1548.3 891.2L1550.5 887.9L1552.8 884.6L1555.0 881.2L1557.1 877.9L1559.3 874.5L1561.4 871.1L1563.5 867.7L1565.6 864.3L1567.6 860.8L1569.6 857.4L1571.6 853.9L1573.6 850.4L1575.5 846.9L1577.5 843.4L1579.4 839.9L1581.3 836.4L1583.1 832.8L1585.0 829.3L1586.8 825.7L1588.6 822.1L1590.4 818.6L1592.1 815.0L1593.9 811.4L1595.6 807.8L1597.3 804.2L1599.0 800.5L1600.7 796.9L1602.4 793.3L1604.1 789.6L1605.7 786.0L1607.3 782.3L1609.0 778.7L1610.6 775.0L1612.2 771.3L1613.8 767.7L1615.4 764.0L1616.9 760.3L1618.5 756.6L1620.1 752.9L1621.6 749.2L1623.2 745.6L1624.7 741.9L1626.3 738.2L1627.8 734.5L1629.3 730.8L1630.8 727.1L1632.4 723.4L1633.9 719.6L1635.4 715.9L1636.8 712.2L1638.3 708.5L1639.8 704.8L1641.3 701.1L1642.7 697.3L1644.2 693.6L1645.7 689.9L1647.1 686.2L1648.5 682.4L1650.0 678.7L1651.4 675.0L1652.8 671.2L1654.2 667.5L1655.6 663.7L1657.0 660.0L1658.4 656.2L1659.8 652.5L1661.2 648.7L1662.6 645.0L1664.0 641.2L1665.3 637.5L1666.7 633.7L1668.1 629.9L1669.4 626.2L1670.8 622.4L1672.1 618.6L1673.4 614.9L1674.7 611.1L1676.1 607.3L1677.4 603.5L1678.7 599.7L1680.0 596.0L1681.3 592.2L1682.6 588.4L1683.9 584.6L1685.2 580.8L1686.4 577.0L1687.7 573.2L1689.0 569.4L1690.2 565.6L1691.5 561.8L1692.7 558.0L1694.0 554.2L1695.2 550.4L1696.5 546.6L1697.7 542.8L1698.9 539.0L1700.1 535.2L1701.4 531.4L1702.6 527.6L1703.8 523.8L1705.0 519.9L1706.2 516.1L1707.4 512.3L1708.5 508.5L1709.7 504.6L1710.9 500.8L1712.1 497.0L1713.2 493.2L1714.4 489.3L1715.6 485.5L1716.7 481.7L1717.9 477.8L1719.0 474.0L1720.1 470.2L1721.3 466.3L1722.4 462.5L1723.5 458.6L1724.7 454.8L1725.8 450.9L1726.9 447.1L1728.0 443.2L1729.1 439.4L1730.2 435.5L1731.3 431.7L1732.4 427.8L1733.5 424.0L1734.6 420.1L1735.6 416.3L1736.7 412.4L1737.8 408.6L1738.9 404.7L1739.9 400.8L1741.0 397.0L1742.0 393.1L1743.1 389.2L1744.1 385.4L1745.2 381.5L1746.2 377.6L1747.3 373.8L1748.3 369.9L1749.3 366.0L1750.4 362.1L1751.4 358.3L1752.4 354.4L1753.4 350.5L1754.4 346.6L1755.4 342.8L1756.4 338.9L1757.4 335.0L1758.4 331.1L1759.4 327.2L1760.4 323.4L1761.4 319.5L1762.4 315.6L1763.4 311.7L1764.4 307.8L1765.3 303.9L1766.3 300.0L1767.3 296.2L1768.2 292.3L1769.2 288.4L1770.2 284.5L1771.1 280.6L1772.1 276.7L1773.0 272.8L1774.0 268.9L1774.9 265.0L1775.9 261.1L1776.8 257.2L1777.7 253.3L1778.7 249.4L1779.6 245.5L1780.5 241.6L1781.5 237.7L1782.4 233.8L1783.3 229.9L1784.2 226.0L1785.2 222.1L1786.1 218.2L1787.0 214.3L1787.9 210.4L1788.8 206.5L1789.7 202.6L1790.6 198.7L1791.5 194.8L1792.4 190.9L1793.3 187.0L1794.2 183.1L1795.1 179.2L1796.0 175.3L1796.9 171.4L1797.8 167.5L1798.6 163.6L1799.5 159.7L1800.4 155.8L1801.3 151.9L1802.2 148.0L1803.0 144.1L1803.9 140.2L1804.8 136.2L1805.6 132.3L1806.5 128.4L1807.4 124.5L1808.2 120.6L1809.1 116.7L1810.0 112.8L1810.8 108.9L1811.7 105.0L1812.5 101.1L1813.4 97.2L1814.2 93.3L1815.1 89.4L1815.9 85.4L1816.8 81.5L1817.6 77.6L1818.5 73.7L1819.3 69.8L1820.2 65.9L1821.0 62.0" stroke="#ee0b0b" stroke-width="5.2"/>
<path d="M2042.6 277.2L2060.4 242.9L2059.4 246.8L2058.3 250.6L2057.3 254.5L2056.2 258.3L2055.2 262.2L2054.1 266.0L2053.0 269.9L2052.0 273.7L2050.9 277.6L2049.8 281.4L2048.7 285.2L2047.6 289.1L2046.4 292.9L2045.3 296.8L2044.2 300.6L2043.0 304.4L2041.9 308.2L2040.7 312.1L2039.6 315.9L2038.4 319.7L2037.2 323.5L2036.1 327.4L2034.9 331.2L2033.7 335.0L2032.5 338.8L2031.2 342.6L2030.0 346.4L2028.8 350.2L2027.5 354.0L2026.3 357.8L2025.1 361.6L2023.8 365.4L2022.5 369.2L2021.3 373.0L2020.0 376.8L2018.7 380.6L2017.4 384.4L2016.1 388.2L2014.8 391.9L2013.4 395.7L2012.1 399.5L2010.8 403.3L2009.4 407.0L2008.1 410.8L2006.7 414.6L2005.4 418.3L2004.0 422.1L2002.6 425.8L2001.2 429.6L1999.8 433.3L1998.4 437.1L1997.0 440.8L1995.6 444.6L1994.2 448.3L1992.7 452.0L1991.3 455.8L1989.8 459.5L1988.4 463.2L1986.9 467.0L1985.4 470.7L1984.0 474.4L1982.5 478.1L1981.0 481.8L1979.5 485.5L1978.0 489.2L1976.5 492.9L1974.9 496.6L1973.4 500.3L1971.8 504.0L1970.3 507.7L1968.7 511.4L1967.2 515.1L1965.6 518.8L1964.0 522.4L1962.4 526.1L1960.8 529.8L1959.2 533.4L1957.6 537.1L1956.0 540.8L1954.4 544.4L1952.7 548.1L1951.1 551.7L1949.4 555.3L1947.8 559.0L1946.1 562.6L1944.4 566.3L1942.8 569.9L1941.1 573.5L1939.4 577.1L1937.7 580.7L1935.9 584.4L1934.2 588.0L1932.5 591.6L1930.8 595.2L1929.0 598.8L1927.3 602.4L1925.5 605.9L1923.7 609.5L1922.0 613.1L1920.2 616.7L1918.4 620.3L1916.6 623.8L1914.8 627.4L1912.9 631.0L1911.1 634.5L1909.3 638.1L1907.4 641.6L1905.6 645.1L1903.7 648.7L1901.9 652.2L1900.0 655.7L1898.1 659.3L1896.2 662.8L1894.3 666.3L1892.4 669.8L1890.5 673.3L1888.6 676.8L1886.7 680.3L1884.7 683.8L1882.8 687.3L1880.8 690.8L1878.9 694.3L1876.9 697.8L1874.9 701.2L1872.9 704.7L1870.9 708.1L1868.9 711.6L1866.9 715.1L1864.9 718.5L1862.9 721.9L1860.8 725.4L1858.8 728.8L1856.8 732.2L1854.7 735.7L1852.6 739.1L1850.5 742.5L1848.5 745.9L1846.4 749.3L1844.3 752.7L1842.2 756.1L1840.0 759.5L1837.9 762.8L1835.8 766.2L1833.7 769.6L1831.5 773.0L1829.3 776.3L1827.2 779.7L1825.0 783.0L1822.8 786.4L1820.6 789.7L1818.4 793.0L1816.2 796.4L1814.0 799.7L1811.8 803.0L1809.6 806.3L1807.3 809.6L1805.1 812.9L1802.8 816.2L1800.5 819.5L1798.3 822.8L1796.0 826.0L1793.7 829.3L1791.4 832.6L1789.1 835.8L1786.8 839.1L1784.5 842.3L1782.1 845.6L1779.8 848.8L1777.4 852.0L1775.1 855.3L1772.7 858.5L1770.3 861.7L1768.0 864.9L1765.6 868.1L1763.2 871.3L1760.8 874.5L1758.3 877.7L1755.9 880.8L1753.5 884.0L1751.0 887.2L1748.6 890.3L1746.1 893.5L1743.7 896.6L1741.2 899.8L1738.7 902.9L1736.2 906.0L1733.7 909.2L1731.2 912.3L1728.7 915.4L1726.2 918.5L1723.6 921.6L1721.1 924.7L1718.5 927.7L1716.0 930.8L1713.4 933.9L1710.8 936.9L1708.2 940.0L1705.7 943.0L1703.1 946.1L1700.4 949.1L1697.8 952.1L1695.2 955.2L1692.6 958.2L1689.9 961.2L1687.3 964.2L1684.6 967.2L1681.9 970.2L1679.2 973.1L1676.6 976.1L1673.9 979.1L1671.1 982.0L1668.4 985.0L1665.7 987.9L1663.0 990.9L1660.2 993.8L1657.5 996.7L1654.7 999.6L1652.0 1002.5L1649.2 1005.4L1646.4 1008.3L1643.6 1011.2L1640.8 1014.1L1638.0 1016.9L1635.2 1019.8L1632.3 1022.6L1629.5 1025.4L1626.6 1028.2L1623.8 1031.1L1620.9 1033.9L1618.0 1036.7L1615.1 1039.4L1612.2 1042.2L1609.3 1045.0L1606.4 1047.7L1603.5 1050.4L1600.6 1053.2L1597.6 1055.9L1594.7 1058.6L1591.7 1061.3L1588.7 1064.0L1585.7 1066.6L1582.8 1069.3L1579.7 1071.9L1576.7 1074.6L1573.7 1077.2L1570.7 1079.8L1567.6 1082.4L1564.6 1085.0L1561.5 1087.6L1558.5 1090.1L1555.4 1092.7L1552.3 1095.2L1549.2 1097.7L1546.1 1100.2L1542.9 1102.7L1539.8 1105.2L1536.7 1107.6L1533.5 1110.1L1530.3 1112.5L1527.2 1114.9L1524.0 1117.3L1520.8 1119.7L1517.6 1122.1L1514.4 1124.5L1511.1 1126.8L1507.9 1129.1L1504.7 1131.4L1501.4 1133.7L1498.1 1136.0L1494.8 1138.3L1491.6 1140.5L1488.3 1142.8L1484.9 1145.0L1481.6 1147.2L1478.3 1149.4L1474.9 1151.5L1471.6 1153.7L1468.2 1155.8L1464.8 1157.9L1461.5 1160.0L1458.1 1162.1L1454.6 1164.2L1451.2 1166.2L1447.8 1168.2L1444.3 1170.2L1440.9 1172.2L1437.4 1174.2L1434.0 1176.2L1430.5 1178.1L1427.0 1180.1L1423.5 1182.0L1420.0 1183.9L1416.4 1185.8L1412.9 1187.6L1409.4 1189.5L1405.8 1191.3L1402.3 1193.2L1398.7 1195.0L1395.2 1196.8L1391.6 1198.6L1388.0 1200.4L1384.4 1202.1L1380.8 1203.9L1377.2 1205.7L1373.6 1207.4L1370.0 1209.1L1366.4 1210.9L1362.8 1212.6L1359.2 1214.3L1355.5 1216.0L1351.9 1217.6L1348.3 1219.3L1344.6 1221.0L1341.0 1222.7L1337.3 1224.3L1333.7 1226.0L1330.0 1227.6L1326.4 1229.3L1322.7 1230.9L1319.0 1232.5L1315.4 1234.1L1311.7 1235.7L1308.0 1237.4L1304.4 1239.0L1300.7 1240.6L1297.0 1242.2L1293.3 1243.8L1289.7 1245.4L1286.0 1247.0L1282.3 1248.6L1278.7 1250.2L1275.0 1251.7L1271.3 1253.3L1267.6 1254.9L1264.0 1256.5L1260.3 1258.1L1256.6 1259.7L1253.0 1261.3L1249.3 1262.8L1245.6 1264.4L1242.0 1266.0L1238.3 1267.6L1234.6 1269.2L1231.0 1270.7L1227.3 1272.3L1223.6 1273.9L1220.0 1275.4L1216.3 1277.0L1212.6 1278.5L1208.9 1280.1L1205.3 1281.6L1201.6 1283.1L1197.9 1284.7L1194.2 1286.2L1190.5 1287.7L1186.8 1289.2L1183.1 1290.7L1179.4 1292.2L1175.7 1293.7L1172.0 1295.1L1168.3 1296.6L1164.6 1298.0L1160.9 1299.5L1157.2 1300.9L1153.4 1302.3L1149.7 1303.7L1146.0 1305.1L1142.2 1306.5L1138.5 1307.9L1134.7 1309.3L1131.0 1310.6L1127.2 1311.9L1123.4 1313.2L1119.6 1314.6L1115.8 1315.8L1112.0 1317.1L1108.2 1318.4L1104.4 1319.6L1100.6 1320.9L1096.8 1322.1L1092.9 1323.3L1089.1 1324.5L1085.3 1325.8L1081.5 1327.0L1077.7 1328.3L1073.9 1329.6L1070.2 1331.0L1066.4 1332.4L1062.7 1333.9L1059.0 1335.4L1055.4 1337.0L1051.8 1338.6L1048.2 1340.3L1044.7 1342.1L1041.2 1344.0L1037.7 1346.0L1034.3 1348.0L1030.9 1350.0L1027.5 1352.2L1024.2 1354.4L1020.9 1356.7L1017.7 1359.0L1014.4 1361.3L1011.2 1363.7L1008.1 1366.2L1004.9 1368.7L1001.8 1371.3L998.8 1373.9L995.7 1376.5L992.7 1379.1L989.7 1381.8L986.7 1384.5L983.8 1387.3L980.8 1390.0L977.9 1392.8L975.0 1395.6L972.1 1398.4L969.2 1401.2L966.3 1404.0L963.4 1406.9L960.6 1409.7L957.7 1412.5L954.8 1415.4L951.9 1418.2L949.0 1421.0L946.1 1423.8L943.2 1426.6L940.3 1429.4L937.4 1432.1L934.4 1434.9L931.4 1437.6L928.4 1440.3L925.4 1442.9L922.3 1445.5L919.2 1448.1L916.1 1450.6L913.0 1453.1L909.8 1455.6L906.6 1458.0L903.3 1460.3L900.0 1462.6L896.6 1464.9L893.2 1467.1L889.7 1469.2L886.2 1471.2L882.7 1473.2L879.1 1475.0L875.4 1476.7L871.8 1478.1L868.1 1479.3L864.4 1480.2L860.8 1480.8L857.1 1481.0L853.5 1480.8L849.9 1480.2L846.3 1479.1L842.8 1477.6L839.3 1475.8L835.8 1473.7L832.5 1471.4L829.2 1468.9L826.0 1466.1L822.8 1463.3L819.8 1460.4L816.8 1457.5L813.9 1454.4L811.1 1451.4L808.3 1448.3L805.6 1445.1L802.9 1442.0L800.2 1438.8L797.6 1435.7L794.9 1432.5L792.3 1429.4L789.7 1426.3L787.1 1423.2L784.4 1420.2L781.7 1417.3L779.0 1414.4L776.3 1411.5L773.5 1408.7L770.7 1405.9L767.9 1403.2L765.1 1400.5L762.2 1397.8L759.3 1395.1L756.3 1392.5L753.4 1389.9L750.4 1387.3L747.3 1384.7L744.3 1382.1L741.2 1379.6L738.0 1377.1L734.9 1374.7L731.7 1372.2L728.5 1369.8L725.2 1367.5L721.9 1365.1L718.6 1362.9L715.3 1360.6L711.9 1358.4L708.5 1356.3L705.1 1354.2L701.7 1352.2L698.2 1350.2L694.7 1348.3L691.2 1346.4L687.6 1344.6L684.1 1342.8L680.5 1341.1L676.9 1339.5L673.2 1337.9L669.6 1336.3L665.9 1334.8L662.2 1333.4L658.5 1332.0L654.7 1330.6L651.0 1329.3L647.2 1328.0L643.4 1326.8L639.6 1325.6L635.8 1324.5L631.9 1323.4L628.1 1322.3L624.2 1321.3L620.4 1320.3L616.5 1319.3L612.6 1318.4L608.7 1317.5L604.7 1316.6L600.8 1315.8L596.9 1315.0L592.9 1314.2L589.0 1313.5L585.0 1312.8L581.0 1312.1L577.0 1311.4L573.1 1310.8L569.1 1310.2L565.1 1309.6L561.1 1309.0L557.1 1308.4L553.1 1307.9L549.1 1307.3L545.1 1306.8L541.1 1306.3L537.1 1305.8L533.1 1305.4L529.1 1304.9L525.1 1304.4L521.1 1304.0L517.2 1303.6L513.2 1303.1L509.2 1302.7L505.2 1302.3L501.3 1301.9L497.3 1301.5L493.4 1301.1L489.4 1300.7L485.5 1300.2L481.6 1299.8L477.7 1299.4L473.8 1299.0L473.5 1294.7L473.4 1290.6L473.5 1286.4L473.9 1282.4L474.5 1278.4L475.3 1274.6L476.4 1270.8L477.6 1267.0L479.0 1263.4L480.6 1259.8L482.4 1256.3L484.3 1252.9L486.4 1249.5L488.6 1246.2L491.0 1243.0L493.4 1239.9L496.0 1236.9L498.7 1233.9L501.6 1231.0L504.5 1228.2L507.4 1225.5L510.5 1222.9L513.6 1220.3L516.8 1217.8L520.0 1215.4L523.3 1213.0L526.6 1210.8L529.9 1208.6L533.3 1206.5L536.7 1204.4L540.2 1202.5L543.7 1200.5L547.2 1198.7L550.8 1196.9L554.3 1195.2L558.0 1193.5L561.6 1191.9L565.3 1190.4L568.9 1188.9L572.7 1187.4L576.4 1186.0L580.2 1184.7L583.9 1183.4L587.7 1182.1L591.5 1180.9L595.4 1179.7L599.2 1178.6L603.1 1177.5L607.0 1176.4L610.8 1175.4L614.7 1174.3L618.6 1173.4L622.5 1172.4L626.5 1171.5L630.4 1170.6L634.3 1169.7L638.2 1168.8L642.2 1168.0L646.1 1167.2L650.1 1166.3L654.0 1165.5L657.9 1164.8L661.9 1164.0L665.8 1163.2L669.7 1162.5L673.7 1161.8L677.6 1161.0L681.6 1160.3L685.5 1159.6L689.5 1159.0L693.4 1158.3L697.4 1157.6L701.3 1157.0L705.3 1156.4L709.2 1155.8L713.2 1155.1L717.1 1154.5L721.1 1153.9L725.0 1153.4L729.0 1152.8L732.9 1152.2L736.9 1151.7L740.9 1151.1L744.8 1150.6L748.8 1150.1L752.7 1149.5L756.7 1149.0L760.7 1148.5L764.6 1148.0L768.6 1147.5L772.5 1147.0L776.5 1146.5L780.5 1146.0L784.4 1145.5L788.4 1145.0L792.4 1144.6L796.3 1144.1L800.3 1143.6L804.3 1143.2L808.2 1142.7L812.2 1142.2L816.2 1141.8L820.1 1141.3L824.1 1140.8L828.1 1140.4L832.1 1139.9L836.0 1139.5L840.0 1139.0L844.0 1138.5L847.9 1138.1L851.9 1137.6L855.9 1137.1L859.9 1136.7L863.8 1136.2L867.8 1135.7L871.8 1135.2L875.8 1134.8L879.7 1134.3L883.7 1133.8L887.7 1133.3L891.6 1132.8L895.6 1132.3L899.6 1131.8L903.6 1131.2L907.5 1130.7L911.5 1130.2L915.5 1129.6L919.5 1129.1L923.4 1128.5L927.4 1128.0L931.4 1127.4L935.4 1126.8L939.3 1126.2L943.3 1125.6L947.3 1125.0L951.3 1124.4L955.2 1123.8L959.2 1123.2L963.2 1122.5L967.1 1121.8L971.1 1121.1L975.0 1120.3L979.0 1119.5L982.9 1118.7L986.8 1117.8L990.7 1116.9L994.5 1115.9L998.4 1114.8L1002.2 1113.7L1006.0 1112.4L1009.7 1111.1L1013.4 1109.7L1017.1 1108.2L1020.8 1106.7L1024.4 1105.0L1027.9 1103.2L1031.5 1101.4L1035.0 1099.4L1038.5 1097.4L1041.9 1095.3L1045.3 1093.2L1048.6 1091.0L1051.9 1088.7L1055.2 1086.3L1058.5 1083.9L1061.7 1081.5L1064.8 1079.0L1067.9 1076.4L1071.0 1073.8L1074.1 1071.2L1077.1 1068.5L1080.0 1065.8L1082.9 1063.1L1085.8 1060.3L1088.7 1057.5L1091.5 1054.7L1094.2 1051.9L1097.0 1049.0L1099.7 1046.1L1102.3 1043.2L1105.0 1040.2L1107.6 1037.2L1110.1 1034.2L1112.7 1031.2L1115.2 1028.1L1117.6 1025.1L1120.1 1022.0L1122.5 1018.8L1124.9 1015.7L1127.3 1012.5L1129.6 1009.3L1132.0 1006.1L1134.3 1002.9L1136.5 999.7L1138.8 996.4L1141.1 993.2L1143.3 989.9L1145.5 986.5L1147.7 983.2L1149.8 979.9L1152.0 976.5L1154.1 973.2L1156.3 969.8L1158.4 966.4L1160.5 963.0L1162.6 959.6L1164.7 956.1L1166.8 952.7L1168.8 949.2L1170.9 945.8L1172.9 942.3L1175.0 938.8L1177.0 935.3L1179.1 931.8L1181.1 928.3L1183.2 924.8L1185.2 921.3L1187.2 917.8L1189.3 914.2L1191.3 910.7L1193.4 907.2L1195.4 903.7L1197.5 900.1L1199.6 896.6L1201.7 893.1L1203.8 889.7L1205.9 886.2L1208.0 882.7L1210.2 879.3L1212.4 875.9L1214.6 872.5L1216.8 869.1L1219.1 865.8L1221.4 862.5L1223.7 859.2L1226.1 856.0L1228.5 852.8L1231.0 849.6L1233.5 846.5L1236.0 843.5L1238.6 840.5L1241.2 837.5L1243.8 834.6L1246.6 831.7L1249.3 828.9L1252.2 826.2L1255.0 823.5L1258.0 820.9L1261.0 818.4L1264.0 815.9L1267.2 813.5L1270.4 811.1L1273.6 808.9L1277.0 806.7L1280.4 804.6L1283.8 802.6L1287.3 800.7L1290.9 798.9L1294.6 797.2L1298.2 795.6L1302.0 794.2L1305.7 792.8L1309.5 791.6L1313.3 790.6L1317.2 789.7L1321.1 788.9L1325.0 788.3L1328.9 787.9L1332.8 787.6L1336.7 787.5L1340.7 787.6L1344.6 787.9L1348.5 788.4L1352.4 789.0L1356.3 789.9L1360.2 791.0L1364.0 792.3L1367.9 793.9L1371.7 795.5L1375.4 797.3L1379.2 799.2L1382.9 801.2L1386.7 803.3L1390.3 805.3L1394.0 807.3L1397.7 809.4L1401.3 811.3L1404.8 813.3L1408.4 815.2L1411.9 817.2L1415.3 819.1L1418.7 821.0L1422.1 822.9L1425.5 824.9L1428.8 826.8L1432.2 828.8L1435.5 830.7L1438.8 832.6L1442.1 834.6L1445.4 836.6L1448.8 838.5L1452.1 840.5L1455.5 842.5L1458.9 844.5L1462.3 846.6L1465.8 848.6L1469.3 850.7L1472.8 852.7L1476.4 854.8L1480.0 856.8L1483.6 858.8L1487.3 860.8L1490.9 862.8L1494.6 864.7L1498.4 866.5L1502.1 868.3L1505.9 870.0L1509.6 871.7L1513.4 873.3L1517.2 874.8L1521.0 876.2L1524.8 877.5L1528.7 878.6L1532.5 879.7L1536.3 880.7L1540.1 881.5L1544.0 882.1L1547.8 882.6L1551.6 883.0L1555.4 883.2L1559.2 883.2L1563.0 883.1L1566.8 882.8L1570.5 882.3L1574.3 881.6L1578.0 880.8L1581.7 879.8L1585.4 878.7L1589.1 877.4L1592.7 876.0L1596.4 874.5L1600.0 872.8L1603.5 871.0L1607.1 869.1L1610.6 867.1L1614.1 865.0L1617.6 862.9L1621.0 860.6L1624.4 858.2L1627.8 855.8L1631.1 853.3L1634.4 850.8L1637.7 848.2L1640.9 845.5L1644.1 842.8L1647.3 840.1L1650.4 837.3L1653.4 834.5L1656.5 831.7L1659.4 828.9L1662.4 826.0L1665.3 823.2L1668.1 820.3L1670.9 817.5L1673.7 814.6L1676.5 811.7L1679.2 808.8L1681.9 805.9L1684.6 802.9L1687.2 800.0L1689.9 797.1L1692.5 794.1L1695.1 791.2L1697.7 788.2L1700.3 785.2L1702.9 782.3L1705.4 779.3L1708.0 776.3L1710.6 773.3L1713.1 770.3L1715.7 767.3L1718.3 764.3L1720.8 761.2L1723.4 758.2L1725.9 755.2L1728.5 752.2L1731.1 749.1L1733.6 746.1L1736.2 743.0L1738.7 740.0L1741.3 736.9L1743.8 733.8L1746.3 730.8L1748.9 727.7L1751.4 724.6L1753.9 721.5L1756.5 718.4L1759.0 715.3L1761.5 712.2L1764.1 709.1L1766.6 706.0L1769.1 702.9L1771.6 699.8L1774.1 696.7L1776.6 693.5L1779.1 690.4L1781.6 687.3L1784.1 684.1L1786.6 681.0L1789.1 677.8L1791.6 674.7L1794.0 671.5L1796.5 668.4L1799.0 665.2L1801.5 662.0L1803.9 658.8L1806.4 655.7L1808.8 652.5L1811.3 649.3L1813.7 646.1L1816.2 642.9L1818.6 639.7L1821.0 636.5L1823.4 633.3L1825.9 630.1L1828.3 626.9L1830.7 623.6L1833.1 620.4L1835.5 617.2L1837.9 614.0L1840.3 610.7L1842.6 607.5L1845.0 604.3L1847.4 601.0L1849.7 597.8L1852.1 594.5L1854.4 591.3L1856.8 588.0L1859.1 584.8L1861.5 581.5L1863.8 578.2L1866.1 575.0L1868.4 571.7L1870.7 568.4L1873.0 565.1L1875.3 561.9L1877.6 558.6L1879.9 555.3L1882.1 552.0L1884.4 548.7L1886.6 545.4L1888.9 542.1L1891.1 538.8L1893.4 535.5L1895.6 532.2L1897.8 528.9L1900.1 525.6L1902.3 522.3L1904.5 519.0L1906.7 515.6L1908.9 512.3L1911.1 509.0L1913.3 505.7L1915.5 502.4L1917.7 499.0L1919.9 495.7L1922.1 492.4L1924.2 489.0L1926.4 485.7L1928.6 482.3L1930.8 479.0L1932.9 475.7L1935.1 472.3L1937.3 469.0L1939.4 465.6L1941.6 462.3L1943.8 458.9L1945.9 455.5L1948.1 452.2L1950.3 448.8L1952.4 445.5L1954.6 442.1L1956.7 438.7L1958.9 435.4L1961.0 432.0L1963.2 428.6L1965.4 425.2L1967.5 421.9L1969.7 418.5L1971.8 415.1L1974.0 411.7L1976.2 408.3L1978.3 405.0L1980.5 401.6L1982.6 398.2L1984.8 394.8L1986.9 391.4L1989.0 388.0L1991.1 384.6L1993.3 381.1L1995.4 377.7L1997.4 374.3L1999.5 370.9L2001.6 367.4L2003.6 364.0L2005.6 360.5L2007.6 357.0L2009.6 353.6L2011.6 350.1L2013.5 346.6L2015.4 343.1L2017.3 339.6L2019.2 336.0L2021.0 332.5L2022.9 328.9L2024.7 325.4L2026.4 321.8L2028.1 318.2L2029.8 314.6L2031.5 311.0L2033.1 307.4L2034.7 303.8L2036.3 300.1" stroke="#0303d6" stroke-width="6.5"/>
</g>
<g fill="#000000">
<rect x="282" y="66.2" width="1944" height="5"/>
<rect x="312" y="66.2" width="5" height="1557"/>
<rect x="317" y="71" width="2.7" height="1533" fill="#8a8a8a"/>
<rect x="282" y="1604.3" width="1944" height="5.4"/>
<rect x="2221" y="66.2" width="5" height="1556.5"/>
<rect x="2218.2" y="71" width="2.8" height="1533" fill="#c8c8c8"/>
<rect x="282" y="1604.7" width="30" height="4.6"/>
<rect x="282" y="1385.0" width="30" height="4.6"/>
<rect x="282" y="1165.2" width="30" height="4.6"/>
<rect x="282" y="945.5" width="30" height="4.6"/>
<rect x="282" y="725.7" width="30" height="4.6"/>
<rect x="282" y="505.9" width="30" height="4.6"/>
<rect x="282" y="286.2" width="30" height="4.6"/>
<rect x="282" y="66.5" width="30" height="4.6"/>
<rect x="297.5" y="1494.8" width="14.5" height="4.6"/>
<rect x="297.5" y="1275.1" width="14.5" height="4.6"/>
<rect x="297.5" y="1055.3" width="14.5" height="4.6"/>
<rect x="297.5" y="835.6" width="14.5" height="4.6"/>
<rect x="297.5" y="615.8" width="14.5" height="4.6"/>
<rect x="297.5" y="396.1" width="14.5" height="4.6"/>
<rect x="297.5" y="176.3" width="14.5" height="4.6"/>
<rect x="471.9" y="1609" width="4.6" height="30"/>
<rect x="789.8" y="1609" width="4.6" height="30"/>
<rect x="1107.8" y="1609" width="4.6" height="30"/>
<rect x="1425.7" y="1609" width="4.6" height="30"/>
<rect x="1743.7" y="1609" width="4.6" height="30"/>
<rect x="2061.6" y="1609" width="4.6" height="30"/>
<rect x="312.9" y="1609" width="4.6" height="14"/>
<rect x="630.9" y="1609" width="4.6" height="14"/>
<rect x="948.8" y="1609" width="4.6" height="14"/>
<rect x="1266.8" y="1609" width="4.6" height="14"/>
<rect x="1584.7" y="1609" width="4.6" height="14"/>
<rect x="1902.6" y="1609" width="4.6" height="14"/>
<rect x="2220.6" y="1609" width="4.6" height="14"/>
</g>
<g style="font-family:'Liberation Serif','Times New Roman',serif;font-weight:bold" font-size="75" fill="#000">
<text x="263" y="1626.5" text-anchor="end">-10</text>
<text x="263" y="1406.8" text-anchor="end">-5</text>
<text x="263" y="1187.0" text-anchor="end">0</text>
<text x="263" y="967.2" text-anchor="end">5</text>
<text x="263" y="747.5" text-anchor="end">10</text>
<text x="263" y="527.8" text-anchor="end">15</text>
<text x="263" y="308.0" text-anchor="end">20</text>
<text x="263" y="88.2" text-anchor="end">25</text>
<text x="474.2" y="1716" text-anchor="middle">0.0</text>
<text x="792.1" y="1716" text-anchor="middle">0.2</text>
<text x="1110.1" y="1716" text-anchor="middle">0.4</text>
<text x="1428.0" y="1716" text-anchor="middle">0.6</text>
<text x="1746.0" y="1716" text-anchor="middle">0.8</text>
<text x="2063.9" y="1716" text-anchor="middle">1.0</text>
</g>
<text x="836" y="1824" style="font-family:'Liberation Serif','Times New Roman',serif;font-weight:bold" font-size="86" fill="#000">Potential (V) [Ag/AgCl]</text>
<g transform="translate(126,1300) rotate(-90)" style="font-family:'Liberation Serif','Times New Roman',serif;font-weight:bold" fill="#000"><text x="0" y="0" font-size="88">Current density (mA.cm</text><text x="919.5" y="-49" font-size="53">-2</text><text x="966" y="0" font-size="88">)</text></g>
<rect x="391" y="158.5" width="200" height="5.5" fill="#ee0b0b"/>
<rect x="391" y="267.2" width="202" height="7.6" fill="#0303d6"/>
<rect x="391" y="392.5" width="202" height="8.2" fill="#000"/>
<g style="font-family:'Liberation Serif','Times New Roman',serif;font-weight:bold" font-size="87" fill="#000">
<text x="628" y="188">700</text><text x="805" y="189" font-size="89">C</text>
<text x="630" y="298.5">850</text><text x="806" y="299.5" font-size="89">C</text>
<text x="607" y="423.5">1000</text><text x="828" y="424.5" font-size="89">C</text>
</g>
<g style="font-family:'Liberation Serif','Times New Roman',serif;font-weight:bold" font-size="48" fill="#000">
<text x="781" y="141">o</text>
<text x="782" y="250.5">o</text>
<text x="804" y="376">o</text>
</g>
</svg>
</body></html>
